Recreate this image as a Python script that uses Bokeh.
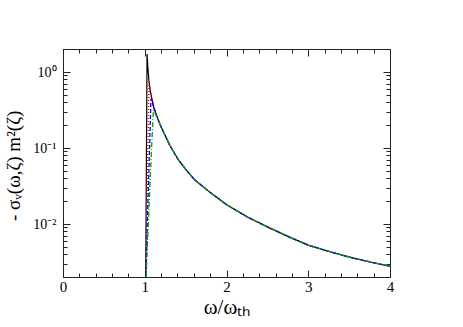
from bokeh.plotting import figure
from bokeh.models import Range1d, FixedTicker, LinearAxis, LogAxis
from bokeh.embed import file_html
from bokeh.resources import INLINE

# ---- data ----
omega_black = [1.005, 1.022, 1.03, 1.045, 1.06, 1.08, 1.1, 1.15, 1.2, 1.3, 1.4, 1.5, 1.6,
               1.8, 2.0, 2.25, 2.5, 2.75, 3.0, 3.25, 3.5, 3.75, 4.0]
sigma_black = [0.0015, 1.74, 1.25, 0.78, 0.58, 0.45, 0.36, 0.25, 0.185, 0.11, 0.072, 0.052, 0.039,
               0.026, 0.018, 0.0125, 0.0092, 0.0069, 0.0053, 0.0044, 0.0037, 0.0032, 0.0028]

omega_red = [1.005, 1.02, 1.035, 1.045, 1.06, 1.08, 1.1, 1.15, 1.2, 1.3, 1.4, 1.5, 1.6,
             1.8, 2.0, 2.25, 2.5, 2.75, 3.0, 3.25, 3.5, 3.75, 4.0]
sigma_red = [0.0015, 0.02, 0.15, 0.74, 0.58, 0.45, 0.36, 0.25, 0.185, 0.11, 0.072, 0.052, 0.039,
             0.026, 0.018, 0.0125, 0.0092, 0.0069, 0.0053, 0.0044, 0.0037, 0.0032, 0.0028]

omega_blue = [1.005, 1.03, 1.055, 1.07, 1.08, 1.1, 1.15, 1.2, 1.3, 1.4, 1.5, 1.6,
              1.8, 2.0, 2.25, 2.5, 2.75, 3.0, 3.25, 3.5, 3.75, 4.0]
sigma_blue = [0.0015, 0.015, 0.12, 0.45, 0.44, 0.36, 0.25, 0.185, 0.11, 0.072, 0.052, 0.039,
              0.026, 0.018, 0.0125, 0.0092, 0.0069, 0.0053, 0.0044, 0.0037, 0.0032, 0.0028]

omega_green = [1.005, 1.04, 1.075, 1.1, 1.15, 1.2, 1.3, 1.4, 1.5, 1.6,
               1.8, 2.0, 2.25, 2.5, 2.75, 3.0, 3.25, 3.5, 3.75, 4.0]
sigma_green = [0.0015, 0.012, 0.09, 0.32, 0.25, 0.185, 0.11, 0.072, 0.052, 0.039,
               0.026, 0.018, 0.0125, 0.0092, 0.0069, 0.0053, 0.0044, 0.0037, 0.0032, 0.0028]

x_major = [0, 1, 2, 3, 4]
x_minor = [0.2, 0.4, 0.6, 0.8, 1.2, 1.4, 1.6, 1.8, 2.2, 2.4, 2.6, 2.8, 3.2, 3.4, 3.6, 3.8]
y_major = [0.01, 0.1, 1]
y_major_labels = ["10\u207b\u00b2", "10\u207b\u00b9", "10\u2070"]
y_minor = [0.002, 0.003, 0.004, 0.005, 0.006, 0.007, 0.008, 0.009,
           0.02, 0.03, 0.04, 0.05, 0.06, 0.07, 0.08, 0.09,
           0.2, 0.3, 0.4, 0.5, 0.6, 0.7, 0.8, 0.9, 2]

x_title = "\u03c9/\u03c9\u209c\u2095"
y_title = "- \u03c3\u1d65(\u03c9,\u03b6)  m\u00b2(\u03b6)"

FONT = "Liberation Serif"

p = figure(frame_width=327, frame_height=228,
           min_border_left=62, min_border_right=66, min_border_top=49, min_border_bottom=42,
           x_range=Range1d(0, 4), y_range=Range1d(0.002, 2), y_axis_type="log",
           output_backend="svg", toolbar_location=None)
p.xgrid.visible = False
p.ygrid.visible = False
p.outline_line_color = "#222222"
p.background_fill_color = "white"
p.border_fill_color = "white"

xt = FixedTicker(ticks=x_major, minor_ticks=x_minor)
yt = FixedTicker(ticks=y_major, minor_ticks=y_minor)

def style(ax):
    ax.axis_line_color = "#222222"
    ax.major_tick_line_color = "#222222"
    ax.minor_tick_line_color = "#222222"
    ax.major_tick_in = 7
    ax.major_tick_out = 0
    ax.minor_tick_in = 4
    ax.minor_tick_out = 0
    ax.major_label_text_font = FONT
    ax.major_label_text_color = "black"
    ax.axis_label_text_font = FONT
    ax.axis_label_text_font_style = "normal"
    ax.axis_label_text_color = "black"

p.xaxis.ticker = xt
p.yaxis.ticker = yt
style(p.xaxis[0])
style(p.yaxis[0])
p.xaxis.major_label_text_font_size = "15px"
p.xaxis.major_label_standoff = 4
p.yaxis.major_label_text_font_size = "14px"
p.yaxis.major_label_standoff = 7
p.yaxis.major_label_overrides = {v: s for v, s in zip(y_major, y_major_labels)}

p.xaxis.axis_label = x_title
p.xaxis.axis_label_text_font_size = "21px"
p.xaxis.axis_label_standoff = 0
p.yaxis.axis_label = y_title
p.yaxis.axis_label_text_font_size = "19px"
p.yaxis.axis_label_standoff = 6

top = LinearAxis(ticker=xt)
style(top)
top.major_label_overrides = {v: "" for v in x_major}
p.add_layout(top, "above")
right = LogAxis(ticker=yt)
style(right)
right.major_label_overrides = {v: "" for v in y_major}
p.add_layout(right, "right")

p.line(omega_black, sigma_black, line_color="black", line_width=1.2)
p.line(omega_red, sigma_red, line_color="#ff0000", line_width=1.5, line_dash="1 2")
p.line(omega_blue, sigma_blue, line_color="#0000ff", line_width=1.3, line_dash="4 2")
p.line(omega_green, sigma_green, line_color="#00a000", line_width=1.3, line_dash="5 2 1 2")

open("out.html", "w").write(file_html(p, INLINE))
